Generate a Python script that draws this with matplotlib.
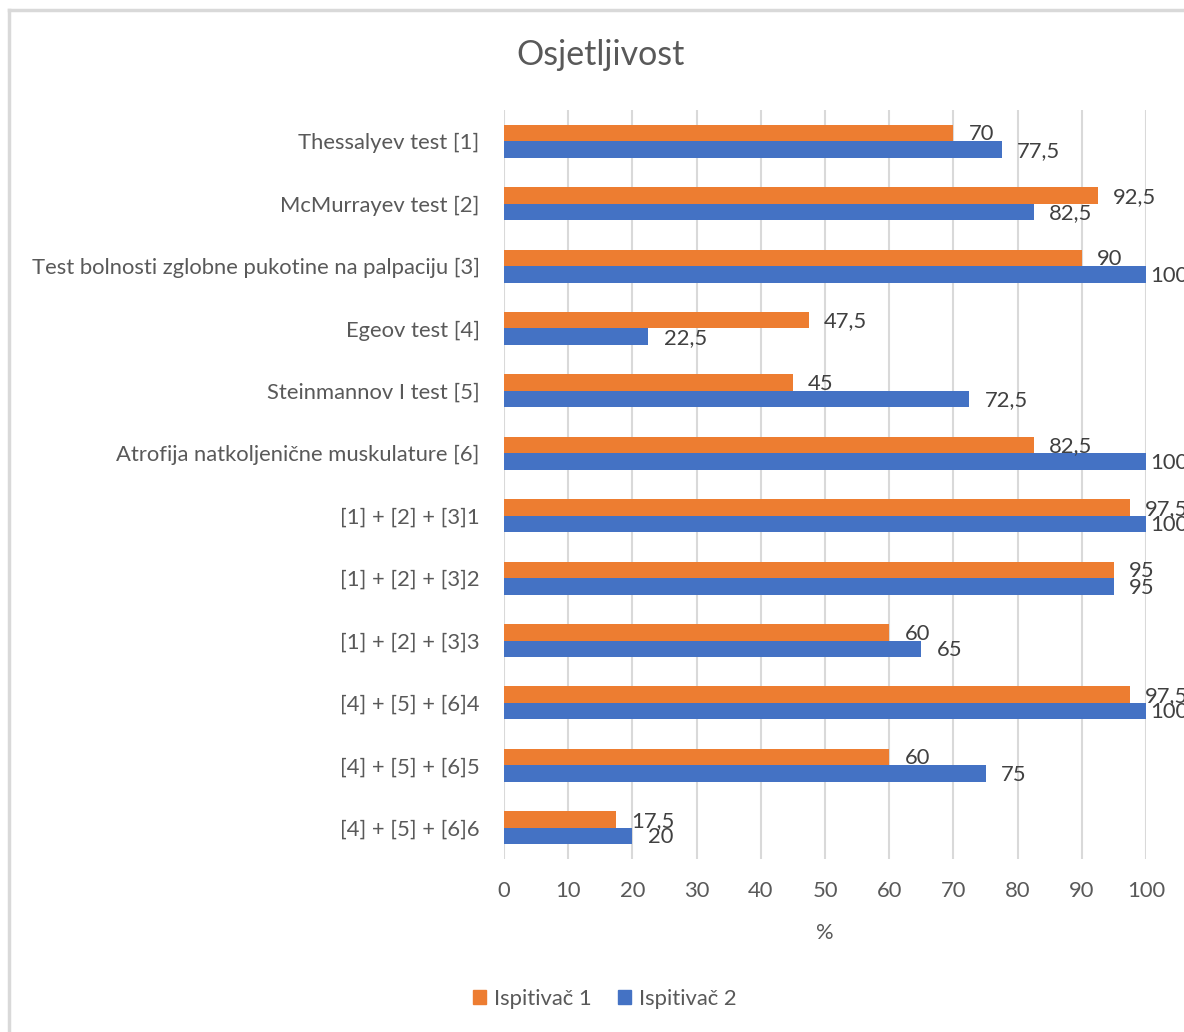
import matplotlib
matplotlib.use("Agg")
from matplotlib import pyplot as plt
from matplotlib.lines import Line2D
from matplotlib.patches import Patch

categories = [
    "Thessalyev test [1]",
    "McMurrayev test [2]",
    "Test bolnosti zglobne pukotine na palpaciju [3]",
    "Egeov test [4]",
    "Steinmannov I test [5]",
    "Atrofija natkoljenične muskulature [6]",
    "[1] + [2] + [3]1",
    "[1] + [2] + [3]2",
    "[1] + [2] + [3]3",
    "[4] + [5] + [6]4",
    "[4] + [5] + [6]5",
    "[4] + [5] + [6]6",
]
ispitivac1 = [70, 92.5, 90, 47.5, 45, 82.5, 97.5, 95, 60, 97.5, 60, 17.5]
ispitivac2 = [77.5, 82.5, 100, 22.5, 72.5, 100, 100, 95, 65, 100, 75, 20]
series_names = ["Ispitivač 1", "Ispitivač 2"]
xticks = [0, 10, 20, 30, 40, 50, 60, 70, 80, 90, 100]

ORANGE = "#ED7D31"
BLUE = "#4472C4"
TEXT = "#595959"
GRID = "#D9D9D9"
FS = 15.8

plt.rcParams["font.family"] = ["Lato", "DejaVu Sans"]

fig = plt.figure(figsize=(11.84, 10.32), dpi=100)
ax = fig.add_axes([504 / 1184, 1 - 859 / 1032, 642 / 1184, 749 / 1032])

n = len(categories)
ypos = list(range(n))
h = 0.265
ax.barh([y - h / 2 for y in ypos], ispitivac1, height=h, color=ORANGE, zorder=3)
ax.barh([y + h / 2 for y in ypos], ispitivac2, height=h, color=BLUE, zorder=3)

ax.set_xlim(0, 100)
ax.set_ylim(n - 0.5, -0.5)
ax.set_yticks(ypos)
ax.set_yticklabels(categories)
ax.set_xticks(xticks)
ax.tick_params(axis="both", length=0, labelsize=FS, colors=TEXT)
ax.tick_params(axis="y", pad=17.5)
ax.tick_params(axis="x", pad=16)
for s in ax.spines.values():
    s.set_visible(False)
ax.grid(axis="x", color=GRID, linewidth=1.5, zorder=0)
ax.set_xlabel("%", fontsize=FS, color=TEXT, labelpad=16)


def label(vals, dy):
    for y, v in zip(ypos, vals):
        txt = ("%g" % v).replace(".", ",")
        off = 3 if v >= 100 else 11
        ax.annotate(txt, (v, y + dy), xytext=(off, 0), textcoords="offset points",
                    ha="left", va="center", fontsize=FS, color="#404040",
                    annotation_clip=False, zorder=4)


label(ispitivac1, -h / 2 + 0.02)
label(ispitivac2, h / 2 + 0.02)

fig.text(601 / 1184, 1 - 55 / 1032, "Osjetljivost", ha="center", va="center",
         fontsize=24.5, color=TEXT)

handles = [Patch(color=ORANGE), Patch(color=BLUE)]
fig.legend(handles, series_names, loc="center", bbox_to_anchor=(605 / 1184, 1 - 999 / 1032),
           ncol=2, frameon=False, fontsize=FS, handlelength=0.6, handleheight=0.6,
           handletextpad=0.35, columnspacing=1.2, labelcolor=TEXT)

# chart area border (only top and left edges visible in the crop)
fig.add_artist(Line2D([9 / 1184, 9 / 1184], [0, 1 - 10 / 1032], color=GRID, linewidth=2.5))
fig.add_artist(Line2D([9 / 1184, 1], [1 - 10 / 1032, 1 - 10 / 1032], color=GRID, linewidth=2.5))

fig.savefig("out.png", dpi=100)
